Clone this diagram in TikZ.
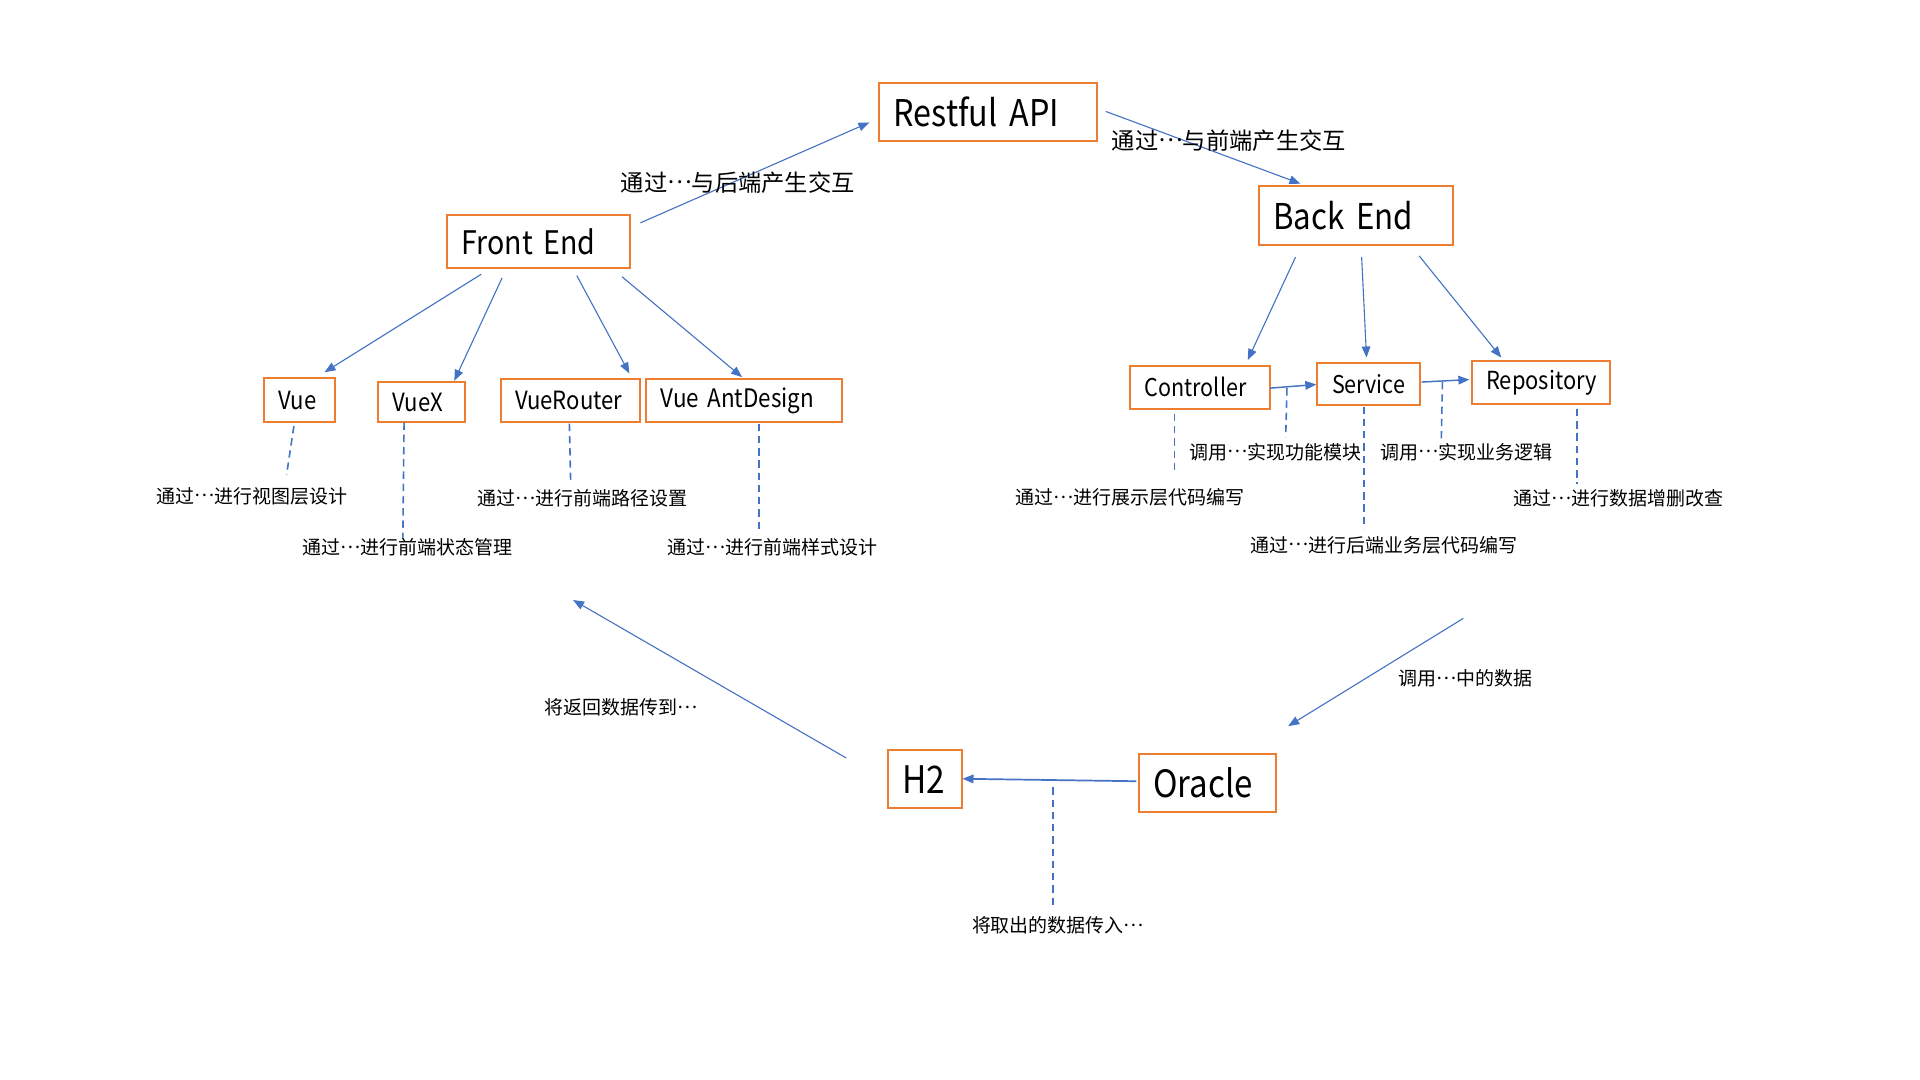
\documentclass[tikz,border=0pt]{standalone}
\usepackage{fontspec}
\setmainfont{Noto Sans CJK SC}
\newfontfamily\narrowfont[FakeStretch=0.88]{Noto Sans CJK SC}
\newcommand\midell{\raisebox{0.33em}{…}}
\usetikzlibrary{arrows.meta}
\definecolor{boxorange}{HTML}{ED7D31}
\definecolor{lineblue}{HTML}{4472C4}
\begin{document}
\begin{tikzpicture}[x=1pt,y=-1pt,
 box/.style={draw=boxorange, line width=1.6pt, anchor=north west, inner xsep=12pt, inner ysep=0pt, align=left},
 fs/.style={font=\narrowfont\fontsize{#1}{#1}\selectfont},
 arr/.style={draw=lineblue, line width=0.9pt, -{Triangle[length=9pt,width=7pt]}},
 dsh/.style={draw=lineblue, line width=1.3pt, dash pattern=on 6pt off 4pt},
 lbl/.style={font=\fontsize{15.5}{18}\selectfont, inner sep=0pt},
 biglbl/.style={font=\fontsize{19}{22}\selectfont, inner sep=0pt}]
\useasboundingbox[fill=white] (0,0) rectangle (1568,882);

% boxes
\node[box, fs=30, text width=154pt, minimum height=47pt] (api) at (717,67) {\mbox{Restful API}};
\node[box, fs=26.5, text width=126pt, minimum height=43pt] (fe) at (364,175) {\mbox{Front End}};
\node[box, fs=29, text width=135pt, minimum height=48pt] (be) at (1027,151) {\mbox{Back End}};
\node[box, fs=20.5, text width=34pt, minimum height=36pt] (vue) at (215,308) {\mbox{Vue}};
\node[box, fs=20.5, text width=47pt, minimum height=33pt] (vuex) at (308,311) {\mbox{VueX}};
\node[box, fs=20.5, text width=90pt, minimum height=35pt] (router) at (408,309) {\mbox{VueRouter}};
\node[box, fs=20.8, text width=136pt, minimum height=35pt] (ant) at (527,309) {\mbox{Vue AntDesign}};
\node[box, fs=20, text width=90pt, minimum height=35pt] (ctrl) at (922,298) {\mbox{Controller}};
\node[box, fs=20, text width=60pt, minimum height=34pt] (svc) at (1075,296) {\mbox{Service}};
\node[box, fs=20.3, text width=89pt, minimum height=35pt] (repo) at (1201,294) {\mbox{Repository}};
\node[box, fs=31, text width=37pt, minimum height=47pt] (h2) at (724,612) {\mbox{H2}};
\node[box, fs=30.7, text width=88pt, minimum height=47pt] (ora) at (929,615) {\mbox{Oracle}};

% connector end points
\coordinate (feA) at (523,182);   \coordinate (apiA) at (710,100);
\coordinate (apiB) at (903,91);   \coordinate (beA) at (1062,150);
\coordinate (fe1) at (393,224);   \coordinate (vueA) at (265,304);
\coordinate (fe2) at (410,227);   \coordinate (vuexA) at (371,311);
\coordinate (fe3) at (471,225);   \coordinate (routerA) at (514,305);
\coordinate (fe4) at (508,226);   \coordinate (antA) at (606,308);
\coordinate (be1) at (1058,210);  \coordinate (ctrlA) at (1019,294);
\coordinate (be2) at (1112,210);  \coordinate (svcA) at (1116,292);
\coordinate (be3) at (1159,209);  \coordinate (repoA) at (1226,292);
\coordinate (ctrlB) at (1037,317); \coordinate (svcB) at (1075,314);
\coordinate (svcC) at (1161,312); \coordinate (repoB) at (1200,310);
\coordinate (oraA) at (928,638);  \coordinate (h2A) at (786,636);
\coordinate (beLow) at (1195,505); \coordinate (oraTop) at (1052,593);
\coordinate (h2Up) at (691,619);  \coordinate (feLow) at (468,490);

% arrows
\draw[arr] (feA) -- (apiA);
\draw[arr] (apiB) -- (beA);
\draw[arr] (fe1) -- (vueA);
\draw[arr] (fe2) -- (vuexA);
\draw[arr] (fe3) -- (routerA);
\draw[arr] (fe4) -- (antA);
\draw[arr] (be1) -- (ctrlA);
\draw[arr] (be2) -- (svcA);
\draw[arr] (be3) -- (repoA);
\draw[arr, line width=1.2pt] (ctrlB) -- (svcB);
\draw[arr, line width=1.2pt] (svcC) -- (repoB);
\draw[arr, line width=1.4pt] (oraA) -- (h2A);
\draw[arr] (beLow) -- (oraTop);
\draw[arr] (h2Up) -- (feLow);

% dashed leaders
\coordinate (d1a) at (240,348);  \coordinate (d1b) at (234,388);
\coordinate (d2a) at (330,345);  \coordinate (d2b) at (329,440);
\coordinate (d3a) at (465,346);  \coordinate (d3b) at (466,393);
\coordinate (d4a) at (620,346);  \coordinate (d4b) at (620,432);
\coordinate (d5a) at (959,338);  \coordinate (d5b) at (959,384);
\coordinate (d6a) at (1051,317); \coordinate (d6b) at (1050,357);
\coordinate (d7a) at (1114,332); \coordinate (d7b) at (1114,432);
\coordinate (d8a) at (1178,312); \coordinate (d8b) at (1177,362);
\coordinate (d9a) at (1288,334); \coordinate (d9b) at (1288,395);
\coordinate (d10a) at (860,643); \coordinate (d10b) at (860,740);
\draw[dsh] (d1a) -- (d1b);
\draw[dsh] (d2a) -- (d2b);
\draw[dsh] (d3a) -- (d3b);
\draw[dsh] (d4a) -- (d4b);
\draw[dsh] (d5a) -- (d5b);
\draw[dsh] (d6a) -- (d6b);
\draw[dsh] (d7a) -- (d7b);
\draw[dsh] (d8a) -- (d8b);
\draw[dsh] (d9a) -- (d9b);
\draw[dsh] (d10a) -- (d10b);

% labels
\node[biglbl] (l1) at (602.5,149) {通过\midell 与后端产生交互};
\node[biglbl] (l2) at (1003.5,115) {通过\midell 与前端产生交互};
\node[lbl] (l3) at (206,405) {通过\midell 进行视图层设计};
\node[lbl] (l4) at (333,447) {通过\midell 进行前端状态管理};
\node[lbl] (l5) at (476,407) {通过\midell 进行前端路径设置};
\node[lbl] (l6) at (631,447) {通过\midell 进行前端样式设计};
\node[lbl] (l7) at (923,406) {通过\midell 进行展示层代码编写};
\node[lbl] (l8) at (1041.5,369) {调用\midell 实现功能模块};
\node[lbl] (l9) at (1130.5,445) {通过\midell 进行后端业务层代码编写};
\node[lbl] (l10) at (1197.5,369) {调用\midell 实现业务逻辑};
\node[lbl] (l11) at (1322,407) {通过\midell 进行数据增删改查};
\node[lbl] (l12) at (1196.5,554) {调用\midell 中的数据};
\node[lbl] (l13) at (507.5,578) {将返回数据传到\midell};
\node[lbl] (l14) at (864,756) {将取出的数据传入\midell};
\end{tikzpicture}
\end{document}
